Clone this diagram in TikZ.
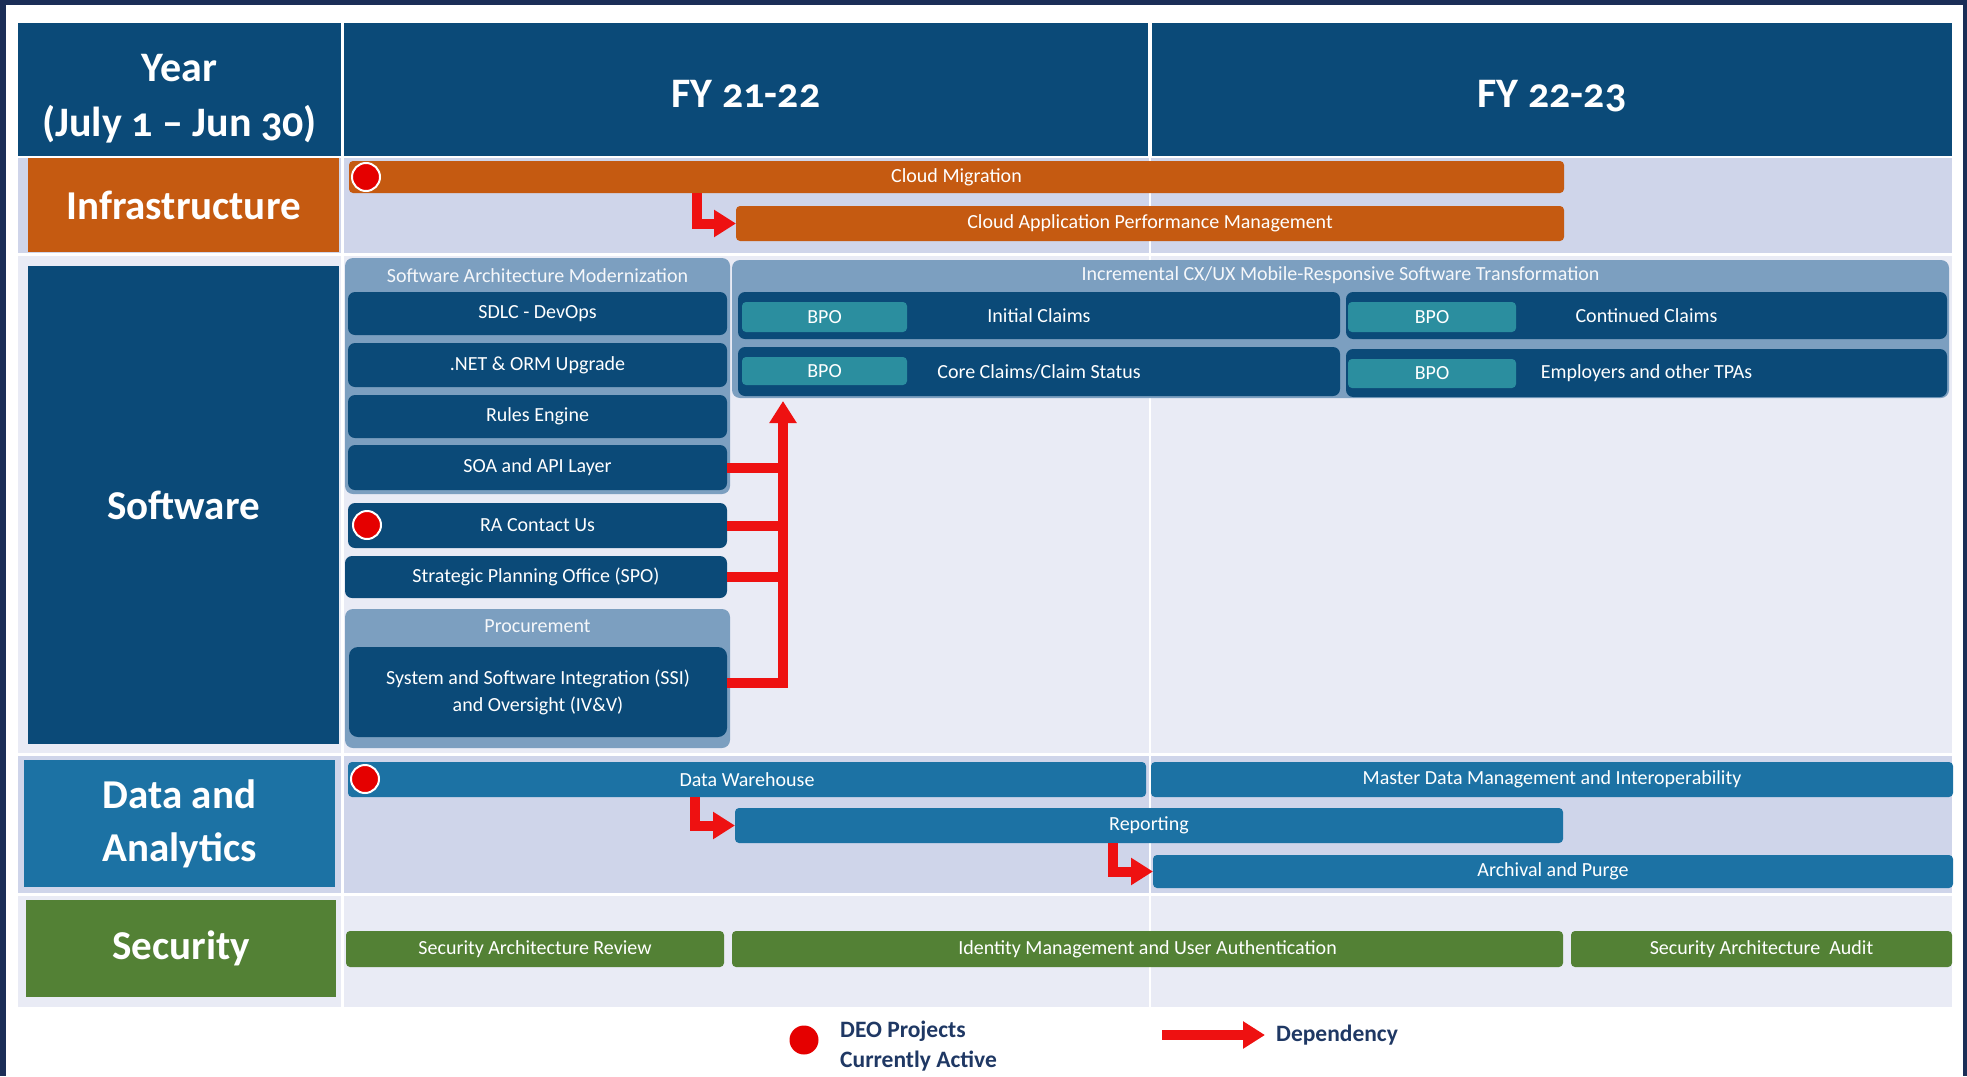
\documentclass[tikz,border=0pt]{standalone}
\usepackage{fontspec}
\setmainfont{Carlito}
\newfontfamily\hdrfont[Numbers=OldStyle]{Carlito}
\usetikzlibrary{arrows.meta}
\definecolor{framec}{HTML}{1B2E57}
\definecolor{navy}{HTML}{0B4A78}
\definecolor{orangec}{HTML}{C55A11}
\definecolor{greenc}{HTML}{538135}
\definecolor{datab}{HTML}{1C72A4}
\definecolor{lav}{HTML}{CFD5EA}
\definecolor{lightbg}{HTML}{E9EBF5}
\definecolor{steel}{HTML}{7C9FC0}
\definecolor{teal}{HTML}{2B8E9F}
\definecolor{depred}{HTML}{EE1111}
\definecolor{dotred}{HTML}{E50000}
\definecolor{legtext}{HTML}{1F3864}
\begin{document}
\begin{tikzpicture}[x=1pt,y=-1pt,
  cell/.style={fill=navy, inner sep=0pt, outer sep=0pt},
  hdr/.style={inner sep=0pt, text=white, align=center, font=\hdrfont\bfseries\fontsize{42pt}{55pt}\selectfont},
  rowlabel/.style={inner sep=0pt, outer sep=0pt, text=white, align=center, font=\bfseries\fontsize{41pt}{53pt}\selectfont},
  bar/.style={rounded corners=4pt, inner sep=0pt, outer sep=0pt, text=white, align=center, font=\fontsize{20pt}{27pt}\selectfont},
  grp/.style={rounded corners=8pt, fill=steel, inner sep=0pt, outer sep=0pt},
  grptitle/.style={inner sep=0pt, text=white!92!steel, font=\fontsize{20pt}{24pt}\selectfont},
  dot/.style={circle, fill=dotred, draw=white, line width=2pt, minimum size=28pt, inner sep=0pt},
  depline/.style={draw=depred, line width=10pt},
  dep/.style={draw=depred, line width=10pt, line join=miter, -{Triangle[width=26pt,length=22pt]}},
  legend/.style={inner sep=0pt, text=legtext, align=left, font=\bfseries\fontsize{23.5pt}{30pt}\selectfont}]
\useasboundingbox (0,0) rectangle (1967,1076);
\fill[framec] (0,0) rectangle (1967,1076);
\fill[white] (6,5) rectangle (1963,1076);
% row backgrounds
\fill[lav] (18,158) rectangle (341,253);
\fill[lav] (344,158) rectangle (1952,253);
\fill[lightbg] (18,256) rectangle (341,753);
\fill[lightbg] (344,256) rectangle (1952,753);
\fill[lav] (18,756) rectangle (341,893);
\fill[lav] (344,756) rectangle (1952,893);
\fill[lightbg] (18,896) rectangle (341,1007);
\fill[lightbg] (344,896) rectangle (1952,1007);
\draw[white, line width=2pt] (1150,156) -- (1150,1007);
% header
\node[cell, minimum width=323pt, minimum height=133pt] (hyear) at (179.5,89.5) {};
\node[cell, minimum width=804pt, minimum height=133pt] (hfy1) at (746,89.5) {};
\node[cell, minimum width=800pt, minimum height=133pt] (hfy2) at (1552,89.5) {};
\node[hdr] (tyear) at (179.5,99) {Year\\(July 1 – Jun 30)};
\node[hdr] (tfy1) at (746,94) {FY 21-22};
\node[hdr] (tfy2) at (1552,96) {FY 22-23};
% row labels
\node[rowlabel, fill=orangec, minimum width=311pt, minimum height=94pt] (linfra) at (183.5,205) {Infrastructure};
\node[rowlabel, fill=navy, minimum width=311pt, minimum height=478pt] (lsoft) at (183.5,505) {Software};
\node[rowlabel, fill=datab, minimum width=311pt, minimum height=127pt] (ldata) at (179.5,823.5) {Data and\\Analytics};
\node[rowlabel, fill=greenc, minimum width=310pt, minimum height=97pt] (lsec) at (181,948.5) {Security};
% infrastructure
\node[bar, fill=orangec, minimum width=1215pt, minimum height=32pt] (cm) at (956.5,177) {Cloud Migration};
\node[bar, fill=orangec, minimum width=828pt, minimum height=35pt] (capm) at (1150,223.5) {Cloud Application Performance Management};
% software groups
\node[grp, minimum width=385pt, minimum height=236pt] (sam) at (537.5,376) {};
\node[grptitle] (samt) at (537.5,276) {Software Architecture Modernization};
\node[grp, minimum width=385pt, minimum height=139pt] (proc) at (537.5,678.5) {};
\node[grptitle] (proct) at (537.5,626) {Procurement};
\node[grp, minimum width=1217pt, minimum height=138pt] (cx) at (1340.5,329) {};
\node[grptitle] (cxt) at (1340.5,275) {Incremental CX/UX Mobile-Responsive Software Transformation};
% software boxes
\node[bar, fill=navy, rounded corners=7pt, minimum width=379pt, minimum height=43pt] (sdlc) at (537.5,313.5) {SDLC - DevOps};
\node[bar, fill=navy, rounded corners=7pt, minimum width=379pt, minimum height=44pt] (net) at (537.5,365) {.NET \& ORM Upgrade};
\node[bar, fill=navy, rounded corners=7pt, minimum width=379pt, minimum height=43pt] (rules) at (537.5,416.5) {Rules Engine};
\node[bar, fill=navy, rounded corners=7pt, minimum width=379pt, minimum height=45pt] (soa) at (537.5,467.5) {SOA and API Layer};
\node[bar, fill=navy, rounded corners=7pt, minimum width=379pt, minimum height=45pt] (ra) at (537.5,525.5) {RA Contact Us};
\node[bar, fill=navy, rounded corners=7pt, minimum width=382pt, minimum height=42pt] (spo) at (536,577) {Strategic Planning Office (SPO)};
\node[bar, fill=navy, rounded corners=9pt, minimum width=378pt, minimum height=90pt] (ssi) at (538,692) {System and Software Integration (SSI)\\and Oversight (IV\&V)};
\node[bar, fill=navy, rounded corners=7pt, minimum width=602pt, minimum height=47pt] (ic) at (1039,315.5) {Initial Claims};
\node[bar, fill=navy, rounded corners=7pt, minimum width=602pt, minimum height=49pt] (cc) at (1039,371.5) {Core Claims/Claim Status};
\node[bar, fill=navy, rounded corners=7pt, minimum width=601pt, minimum height=47pt] (cont) at (1646.5,315.5) {Continued Claims};
\node[bar, fill=navy, rounded corners=7pt, minimum width=601pt, minimum height=48pt] (emp) at (1646.5,373) {Employers and other TPAs};
\node[bar, fill=teal, minimum width=165pt, minimum height=30pt] (bpo1) at (824.5,317) {BPO};
\node[bar, fill=teal, minimum width=165pt, minimum height=28pt] (bpo2) at (824.5,371) {BPO};
\node[bar, fill=teal, minimum width=168pt, minimum height=30pt] (bpo3) at (1432,317) {BPO};
\node[bar, fill=teal, minimum width=168pt, minimum height=29pt] (bpo4) at (1432,373.5) {BPO};
% data
\node[bar, fill=datab, minimum width=798pt, minimum height=35pt] (dw) at (747,779.5) {Data Warehouse};
\node[bar, fill=datab, minimum width=802pt, minimum height=35pt] (mdm) at (1552,779.5) {Master Data Management and Interoperability};
\node[bar, fill=datab, minimum width=828pt, minimum height=35pt] (rep) at (1149,825.5) {Reporting};
\node[bar, fill=datab, minimum width=800pt, minimum height=33pt] (arch) at (1553,871.5) {Archival and Purge};
% security
\node[bar, fill=greenc, minimum width=378pt, minimum height=36pt] (sar) at (535,949) {Security Architecture Review};
\node[bar, fill=greenc, minimum width=831pt, minimum height=36pt] (idm) at (1147.5,949) {Identity Management and User Authentication};
\node[bar, fill=greenc, minimum width=381pt, minimum height=36pt] (saa) at (1761.5,949) {Security Architecture\ \ Audit};
% dependencies
\coordinate (d1x) at (697,0);
\draw[dep] (cm.south -| d1x) |- (capm.west);
\coordinate (vx) at (783,0);
\coordinate (vbot) at (783,688);
\draw[depline] (soa.east) -- (soa.east -| vx);
\draw[depline] (ra.east) -- (ra.east -| vx);
\draw[depline] (spo.east) -- (spo.east -| vx);
\draw[depline] ([yshift=9pt]ssi.east) -- ([yshift=9pt]ssi.east -| vx);
\draw[dep, shorten >=5pt] (vbot) -- (cc.south -| vx);
\coordinate (d3x) at (695,0);
\draw[dep] (dw.south -| d3x) |- (rep.west);
\coordinate (d4x) at (1113,0);
\draw[dep] (rep.south -| d4x) |- (arch.west);
% active dots
\node[dot] (dotcm) at (366,177) {};
\node[dot] (dotra) at (367,525) {};
\node[dot] (dotdw) at (365,779) {};
% legend
\node[circle, fill=dotred, minimum size=29pt, inner sep=0pt] (legdot) at (804,1040) {};
\node[legend, anchor=west] (legdeo) at (840,1046) {DEO Projects\\Currently Active};
\node[legend, anchor=west] (legdep) at (1276,1035) {Dependency};
\coordinate (legstart) at (1162,1035);
\draw[dep, shorten >=11pt] (legstart) -- (legdep.west);
\end{tikzpicture}
\end{document}
